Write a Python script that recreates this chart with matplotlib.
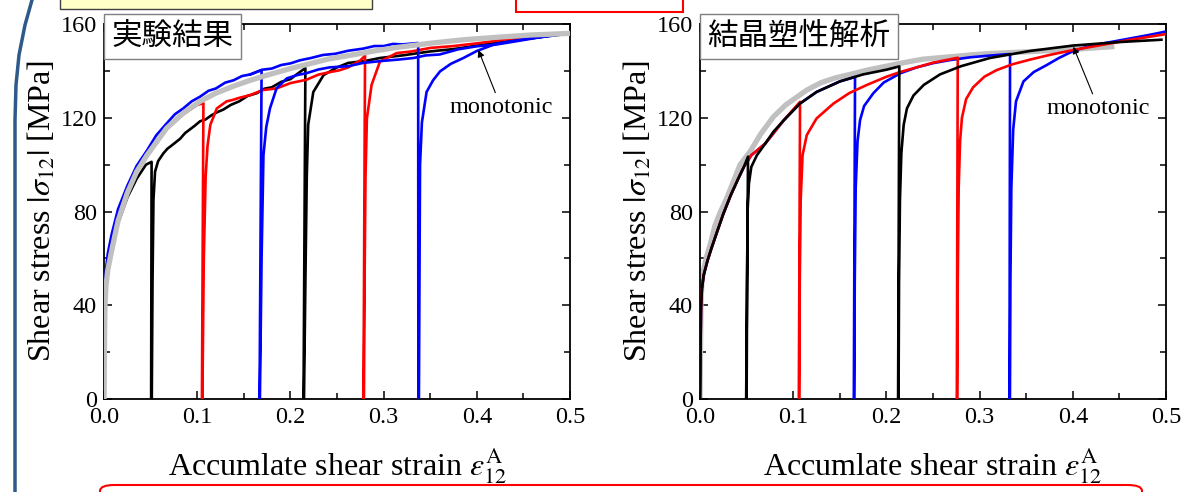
import matplotlib
matplotlib.use('Agg')
import matplotlib.pyplot as plt
from matplotlib.patches import Rectangle, FancyBboxPatch
from matplotlib.lines import Line2D
from matplotlib.ticker import MultipleLocator, FormatStrFormatter

plt.rcParams['font.family'] = ['Liberation Serif', 'DejaVu Serif']
plt.rcParams['mathtext.fontset'] = 'stix'

# ---------------------------------------------------------------------------
# data: experiment (left panel)
# ---------------------------------------------------------------------------
exp_mono_x = [0.0, 0.0005, 0.001, 0.002, 0.004, 0.008, 0.015, 0.025, 0.035, 0.046, 0.067, 0.085,
              0.103, 0.12, 0.139, 0.157, 0.175, 0.2, 0.21, 0.24, 0.262, 0.29, 0.314, 0.35, 0.386,
              0.42, 0.457, 0.5]
exp_mono_y = [0, 25, 40, 48, 55, 63, 76, 88, 97, 104, 115.5, 122, 127, 130.5, 133.5, 136, 138.2,
              141, 142, 145, 146.5, 148.5, 150, 151.8, 153.3, 154.3, 155.3, 156]

# black specimen
exp_k_x = [0.0, 0.001, 0.002, 0.004, 0.008, 0.015, 0.025, 0.035, 0.045, 0.051, 0.0505,
           0.0512, 0.052, 0.053, 0.0547, 0.058, 0.0636, 0.068, 0.072, 0.0815, 0.087, 0.092, 0.097,
           0.103, 0.109, 0.115, 0.121, 0.128, 0.136, 0.145, 0.154, 0.164, 0.172, 0.18, 0.19, 0.2,
           0.21, 0.216, 0.214,
           0.2145, 0.216, 0.2175, 0.219, 0.2245, 0.2355, 0.25, 0.262, 0.28, 0.296, 0.32, 0.35,
           0.375, 0.4035, 0.45, 0.5]
exp_k_y = [0, 40, 48, 55, 63, 75, 86, 94, 100, 101.2, 0,
           0, 50, 85, 97, 101.5, 104.8, 106.8, 108, 111, 113.5, 115, 116.5,
           118.5, 119.3, 121, 122.3, 123.5, 125.5, 127, 129.3, 130.5, 132.4, 133, 135.3, 136.5,
           139.5, 141.2, 0,
           0, 50, 95, 117, 131, 138.2, 141.5, 143.4, 144.2, 145.5, 146.6, 148.3,
           149.3, 151, 153.5, 156]

# red specimen
exp_r_x = [0.0, 0.001, 0.002, 0.004, 0.008, 0.015, 0.025, 0.035, 0.046, 0.067, 0.085, 0.1, 0.1066,
           0.105,
           0.1055, 0.107, 0.109, 0.111, 0.114, 0.121, 0.1315, 0.138, 0.145, 0.157, 0.17, 0.185,
           0.2, 0.217, 0.23, 0.2425, 0.252, 0.262, 0.275, 0.28, 0.2783,
           0.2788, 0.2795, 0.2805, 0.282, 0.287, 0.296, 0.314, 0.33, 0.35, 0.375, 0.4035, 0.43,
           0.457, 0.48, 0.5]
exp_r_y = [0, 40, 48, 55, 63, 76, 88, 97, 104, 115.5, 121.5, 125.5, 126.2,
           0,
           0, 60, 95, 108, 117, 124, 127, 127.6, 128.5, 129.7, 131.8, 132.5,
           134.8, 136.2, 138.4, 139.5, 140.2, 141.5, 144.5, 146.5, 0,
           0, 50, 95, 119.7, 134, 144, 147.6, 148.3, 149.8, 150.6, 151.9, 153.4,
           154.7, 155.3, 156.4]

# blue specimen A (unloaded at 0.337)
exp_bA_x = [0.0, 0.0005, 0.001, 0.002, 0.004, 0.008, 0.015, 0.025, 0.035, 0.046, 0.056, 0.067,
            0.076, 0.085, 0.094, 0.103, 0.112, 0.12, 0.13, 0.139, 0.148, 0.157, 0.17, 0.18, 0.19,
            0.2, 0.21, 0.222, 0.235, 0.248, 0.262, 0.278, 0.29, 0.3, 0.31, 0.32, 0.337,
            0.3372,
            0.3378, 0.3385, 0.339, 0.341, 0.346, 0.353, 0.3605, 0.372, 0.3855, 0.4, 0.42, 0.45,
            0.48, 0.5]
exp_bA_y = [0, 30, 45, 55, 62, 70, 81, 91, 99.5, 106, 112.5, 117.5,
            121.5, 124, 127, 129, 131.5, 132.5, 135, 136, 137.8, 138.5, 140.5, 141, 142.5,
            143.2, 144.5, 145.5, 146.8, 147.3, 148.6, 149.5, 150.6, 150.6, 151.5, 151.3, 151.9,
            0,
            0, 60, 100, 118, 131, 136, 139.8, 143, 145.5, 148.5, 151.5, 153.5, 155, 156]

# blue specimen B (unloaded at 0.169)
exp_bB_x = [0.157, 0.169, 0.1668,
            0.1672, 0.169, 0.171, 0.174, 0.178, 0.185, 0.196, 0.207, 0.217, 0.23, 0.242, 0.262,
            0.278, 0.3, 0.315, 0.332, 0.345, 0.36, 0.38, 0.4, 0.42, 0.44, 0.47, 0.493, 0.5]
exp_bB_y = [138.5, 140.4, 0,
            0, 60, 104, 116, 124, 132.5, 136.8, 138.2, 139, 140.6, 141.5, 142, 143.4, 144.3,
            144.8, 145.5, 146.6, 147, 149.2, 150.5, 151.2, 152.5, 154.5, 156.2, 156.5]

# ---------------------------------------------------------------------------
# data: crystal plasticity (right panel)
# ---------------------------------------------------------------------------
sim_mono_x = [0.0, 0.0005, 0.001, 0.002, 0.004, 0.007, 0.011, 0.016, 0.022, 0.029, 0.036, 0.043,
              0.0536, 0.065, 0.0787, 0.092, 0.107, 0.1145, 0.13, 0.145, 0.161, 0.18, 0.2, 0.2146,
              0.239, 0.268, 0.29, 0.311, 0.354, 0.4, 0.4417]
sim_mono_y = [0, 20, 40, 50, 55.5, 60.7, 66, 74, 80, 86, 93, 100, 105.5, 113, 120.4, 125.5,
              129.7, 131.8, 135, 137, 138.5, 140.4, 142, 143.2, 145, 146, 146.8, 147.4, 148.2,
              149.2, 150.3]

sim_k_x = [0.0, 0.001, 0.002, 0.004, 0.008, 0.012, 0.018, 0.025, 0.033, 0.041, 0.047, 0.0515,
           0.0495,
           0.05, 0.0505, 0.051, 0.0525, 0.055, 0.061, 0.07, 0.0787, 0.09, 0.107, 0.125, 0.15,
           0.175, 0.2, 0.2138, 0.2125,
           0.213, 0.2135, 0.2145, 0.216, 0.2185, 0.222, 0.229, 0.24, 0.2575, 0.28, 0.311, 0.354,
           0.4, 0.45, 0.495]
sim_k_y = [0, 38, 47, 53, 59, 64, 71, 79, 87, 94, 99, 103.4,
           0,
           0, 50, 80, 92, 99, 104, 109, 114, 119, 126, 131, 135.5, 138.5, 140.5, 141.9, 0,
           0, 50, 85, 105, 117, 124, 129.5, 134, 138.5, 142, 145.5, 148.5, 150.8, 152.3, 153.3]

sim_r_x = [0.0, 0.001, 0.002, 0.004, 0.008, 0.012, 0.018, 0.025, 0.033, 0.041, 0.047, 0.055,
           0.07, 0.09, 0.1073, 0.106,
           0.1065, 0.107, 0.108, 0.11, 0.1145, 0.125, 0.143, 0.16, 0.179, 0.2, 0.2146, 0.25,
           0.2765, 0.2755,
           0.276, 0.2765, 0.2775, 0.279, 0.281, 0.2855, 0.293, 0.305, 0.318, 0.335, 0.354, 0.375,
           0.4005, 0.43, 0.461, 0.5]
sim_r_y = [0, 38, 47, 53, 59, 64, 71, 79, 87, 94, 99, 104, 109, 119, 126.8, 0,
           0, 50, 85, 104, 112.6, 119.7, 126, 130.5, 134, 137.5, 139.5, 143.5, 145.6, 0,
           0, 50, 90, 110, 120, 128, 133, 137.5, 140.3, 142.8, 144.8, 146.8, 148.9, 151, 153.2,
           155.7]

sim_b_x = [0.0, 0.001, 0.002, 0.004, 0.008, 0.012, 0.018, 0.025, 0.033, 0.041, 0.047, 0.055,
           0.07, 0.09, 0.107, 0.125, 0.15, 0.1663, 0.165,
           0.1655, 0.166, 0.167, 0.169, 0.1717, 0.176, 0.186, 0.197, 0.215, 0.2325, 0.25, 0.268,
           0.29, 0.31, 0.3326, 0.332,
           0.3325, 0.333, 0.334, 0.336, 0.339, 0.347, 0.358, 0.372, 0.385, 0.4005, 0.42, 0.45,
           0.48, 0.5]
sim_b_y = [0, 38, 47, 53, 59, 64, 71, 79, 87, 94, 99, 104, 109, 119, 126, 131, 135.5, 137.4, 0,
           0, 50, 90, 110, 119, 125, 130.5, 135, 139, 141.5, 143.3, 144.6, 145.8, 146.5, 147.2, 0,
           0, 50, 90, 115, 127, 135.5, 139.5, 142.5, 145.5, 148.5, 150.8, 153, 155.2, 156.8]

panel_titles = ['実験結果', '結晶塑性解析']
x_label = r'Accumlate shear strain $\varepsilon_{12}^{\mathrm{A}}$'
y_label = r'Shear stress $|\sigma_{12}|$ [MPa]'

GRAY = '#c0c0c0'
RED = '#ff0000'
BLUE = '#0000ff'
BLACK = '#000000'

fig = plt.figure(figsize=(12.03, 4.92), dpi=100)
fig.patch.set_facecolor('white')

ax1 = fig.add_axes([0.0865, 0.189, 0.3874, 0.7622])
ax2 = fig.add_axes([0.5819, 0.189, 0.3874, 0.7622])

LW = 1.9
LW_MONO = 3.8

# left panel
ax1.plot(exp_k_x, exp_k_y, color=BLACK, lw=LW, zorder=3)
ax1.plot(exp_r_x, exp_r_y, color=RED, lw=LW, zorder=3)
ax1.plot(exp_mono_x, exp_mono_y, color=GRAY, lw=LW_MONO, zorder=4)
ax1.plot(exp_bA_x, exp_bA_y, color=BLUE, lw=LW, zorder=3.5)
ax1.plot(exp_bB_x, exp_bB_y, color=BLUE, lw=LW, zorder=3.5)

# right panel
ax2.plot(sim_mono_x, sim_mono_y, color=GRAY, lw=LW_MONO, zorder=2)
ax2.plot(sim_b_x, sim_b_y, color=BLUE, lw=LW, zorder=3)
ax2.plot(sim_r_x, sim_r_y, color=RED, lw=LW, zorder=3.2)
ax2.plot(sim_k_x, sim_k_y, color=BLACK, lw=LW, zorder=3.4)

annot = [(ax1, (0.4016, 148.9), (0.426, 124.5)),
         (ax2, (0.4005, 150.3), (0.4276, 124.0))]

for ax, title in zip([ax1, ax2], panel_titles):
    ax.set_xlim(0, 0.5)
    ax.set_ylim(0, 160)
    ax.xaxis.set_major_locator(MultipleLocator(0.1))
    ax.xaxis.set_minor_locator(MultipleLocator(0.05))
    ax.yaxis.set_major_locator(MultipleLocator(40))
    ax.yaxis.set_minor_locator(MultipleLocator(20))
    ax.xaxis.set_major_formatter(FormatStrFormatter('%.1f'))
    ax.tick_params(which='both', direction='in', top=True, right=True, width=1.1,
                   labelsize=17.5)
    ax.tick_params(axis='x', pad=6)
    ax.tick_params(axis='y', pad=5)
    ax.tick_params(which='major', length=6)
    ax.tick_params(which='minor', length=4)
    for sp in ax.spines.values():
        sp.set_linewidth(1.3)
    ax.set_xlabel(x_label, fontsize=23, labelpad=13)
    ax.set_ylabel(y_label, fontsize=23, labelpad=2)
    ax.text(0.016, 1.008, title, transform=ax.transAxes, fontsize=22,
            family=['Noto Sans CJK JP', 'DejaVu Sans'], ha='left', va='top',
            zorder=10, clip_on=False,
            bbox=dict(boxstyle='square,pad=0.24', facecolor='white', edgecolor='#7f7f7f',
                      linewidth=1.0))

for ax, tip, txt in annot:
    ax.annotate('monotonic', xy=tip, xytext=txt, fontsize=17.5, ha='center', va='center',
                zorder=6,
                arrowprops=dict(arrowstyle='-|>', color='black', lw=0.8, mutation_scale=10,
                                shrinkA=1, shrinkB=0))

# slide decorations around the chart
W, H = 1203.0, 492.0
fig.add_artist(Rectangle((60 / W, 1 - 9 / H), 312 / W, 12 / H, transform=fig.transFigure,
                         facecolor='#ffffc8', edgecolor='#404040', lw=1.0, clip_on=False))
fig.add_artist(Rectangle((516 / W, 1 - 12 / H), 167 / W, 15 / H, transform=fig.transFigure,
                         facecolor='white', edgecolor='#ff0000', lw=1.5, clip_on=False))
fig.add_artist(FancyBboxPatch((100 / W, -20 / H), 1042 / W, 27 / H,
                              boxstyle='round,pad=0,rounding_size=0.012',
                              transform=fig.transFigure, facecolor='white',
                              edgecolor='#ff0000', lw=1.5, clip_on=False))
fig.add_artist(Line2D([32 / W, 25 / W, 19 / W, 16 / W, 15 / W, 15 / W],
                      [1.0, 1 - 25 / H, 1 - 55 / H, 1 - 85 / H, 1 - 120 / H, 0.0],
                      transform=fig.transFigure, color='#2e5a8a', lw=2.5))

fig.savefig('out.png', dpi=100, facecolor='white')
